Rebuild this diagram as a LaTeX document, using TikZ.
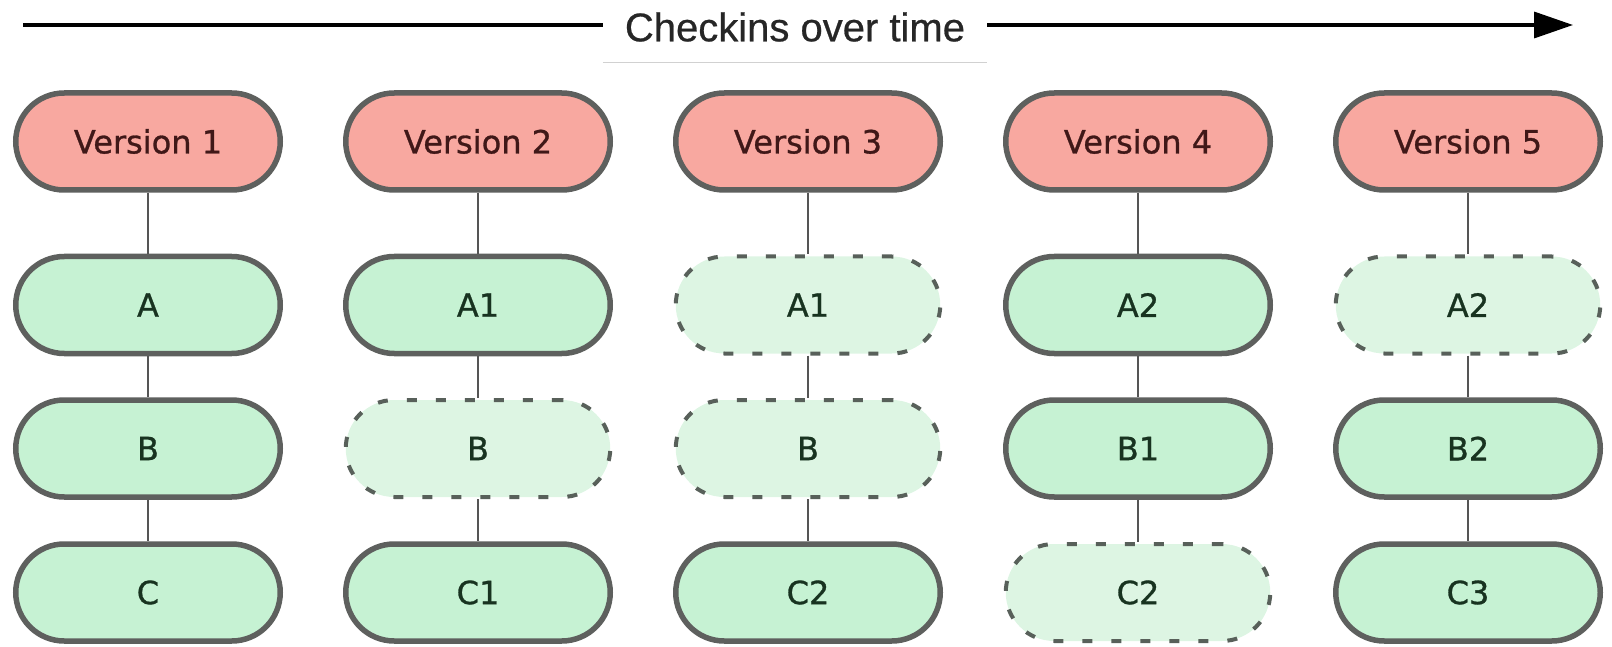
\documentclass[tikz,border=0pt]{standalone}
\usepackage{fontspec}
\setmainfont{DejaVu Sans}
\newfontfamily\labelfont[FakeBold=0.9]{DejaVu Sans}
\newfontfamily\titlefont[FakeBold=0.6]{Liberation Sans}
\usetikzlibrary{arrows.meta}

\definecolor{verfill}{HTML}{F8A8A0}
\definecolor{vertext}{HTML}{401818}
\definecolor{filefill}{HTML}{C6F2D3}
\definecolor{stalefill}{HTML}{DDF5E3}
\definecolor{filetext}{HTML}{183320}
\definecolor{edge}{HTML}{5E605E}
\definecolor{staleedge}{HTML}{58605A}
\definecolor{linkcol}{HTML}{555555}

\begin{document}
\begin{tikzpicture}[x=1pt,y=-1pt,
  blob/.style={rounded corners=48.5pt, minimum width=264.5pt, minimum height=97pt,
    inner sep=0pt, line width=5.5pt, draw=edge,
    font=\labelfont\fontsize{32}{36}\selectfont},
  version/.style={blob, fill=verfill, text=vertext},
  filebox/.style={blob, fill=filefill, text=filetext},
  stale/.style={blob, fill=stalefill, text=filetext, draw=staleedge,
    line width=4pt, dash pattern=on 10pt off 19pt},
  link/.style={draw=linkcol, line width=2.5pt},
  timeline/.style={line width=3.5pt, -{Triangle[length=39pt,width=26pt]}},
  titlebox/.style={fill=white, minimum width=384pt, minimum height=70pt,
    inner sep=0pt, text=black!85, font=\titlefont\fontsize{40}{44}\selectfont}
]
\useasboundingbox (0,0) rectangle (1612,647);

% time axis with its label
\coordinate (tstart) at (23,25);
\coordinate (tend) at (1573,25);
\draw[timeline] (tstart) -- (tend);
\node[titlebox] (title) at (795,27) {Checkins over time};
\draw[black!18, line width=1.2pt] (title.south west) -- (title.south east);

% column 1
\node[version] (v1) at (148,141.5) {Version 1};
\node[filebox] (a1) at (148,305) {A};
\node[filebox] (b1) at (148,448.5) {B};
\node[filebox] (c1) at (148,592.5) {C};

% column 2
\node[version] (v2) at (478,141.5) {Version 2};
\node[filebox] (a2) at (478,305) {A1};
\node[stale]   (b2) at (478,448.5) {B};
\node[filebox] (c2) at (478,592.5) {C1};

% column 3
\node[version] (v3) at (808,141.5) {Version 3};
\node[stale]   (a3) at (808,305) {A1};
\node[stale]   (b3) at (808,448.5) {B};
\node[filebox] (c3) at (808,592.5) {C2};

% column 4
\node[version] (v4) at (1138,141.5) {Version 4};
\node[filebox] (a4) at (1138,305) {A2};
\node[filebox] (b4) at (1138,448.5) {B1};
\node[stale]   (c4) at (1138,592.5) {C2};

% column 5
\node[version] (v5) at (1468,141.5) {Version 5};
\node[stale]   (a5) at (1468,305) {A2};
\node[filebox] (b5) at (1468,448.5) {B2};
\node[filebox] (c5) at (1468,592.5) {C3};

% links down each column
\foreach \i in {1,...,5}{
  \draw[link] (v\i) -- (a\i);
  \draw[link] (a\i) -- (b\i);
  \draw[link] (b\i) -- (c\i);
}
\end{tikzpicture}
\end{document}
